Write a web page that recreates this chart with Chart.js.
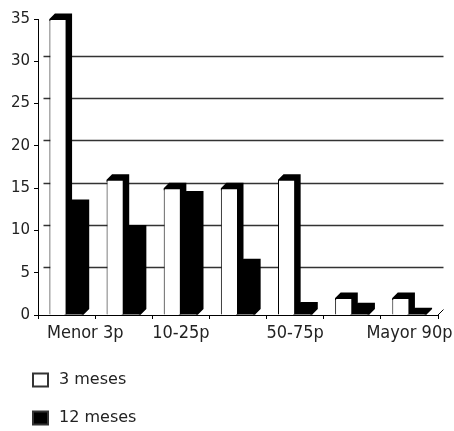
<!DOCTYPE html>
<html>
<head>
<meta charset="utf-8">
<script src="https://cdn.jsdelivr.net/npm/chart.js@4.4.1/dist/chart.umd.min.js"></script>
<style>
  html, body { margin: 0; padding: 0; background: #fff; }
  canvas { display: block; }
</style>
</head>
<body>
<canvas id="chart" width="454" height="431"></canvas>
<script>
// Percentile groups on the category axis (every other one is labelled)
const categories = ['Menor 3p', '3-10p', '10-25p', '25-50p', '50-75p', '75-90p', 'Mayor 90p'];
// Series values
const meses3 = [35, 16, 15, 15, 16, 2, 2];
const meses12 = [13, 10, 14, 6, 0.9, 0.8, 0.2];
const seriesNames = ['3 meses', '12 meses'];
// Value axis ticks
const yTicks = [0, 5, 10, 15, 20, 25, 30, 35];

// Depth of the pseudo-3D bars and back wall
const DX = 5.5, DY = 5.5;
const TEXT = '#222';
const LABEL_FONT = "18px 'DejaVu Sans Condensed', 'Liberation Sans', sans-serif";
const LEGEND_FONT = "16px 'DejaVu Sans', sans-serif";

const depthPlugin = {
  id: 'depth3d',
  beforeDatasetsDraw(chart) {
    const { ctx, chartArea: a, scales: { y } } = chart;
    ctx.save();
    // gridlines on the back wall
    ctx.strokeStyle = '#333';
    ctx.lineWidth = 1.5;
    yTicks.forEach(v => {
      if (v === 0 || v === yTicks[yTicks.length - 1]) return;
      const py = Math.round(y.getPixelForValue(v) - DY) + 0.5;
      ctx.beginPath();
      ctx.moveTo(a.left + DX, py);
      ctx.lineTo(a.right + DX, py);
      ctx.stroke();
    });
    // right edge of the floor
    ctx.strokeStyle = '#000';
    ctx.lineWidth = 1;
    ctx.beginPath();
    ctx.moveTo(a.right, a.bottom);
    ctx.lineTo(a.right + DX, a.bottom - DY);
    ctx.stroke();
    // top and side faces of every bar; they reach 2px into the front face
    // so the front drawn on top leaves no anti-aliased seam
    ctx.fillStyle = '#000';
    chart.data.datasets.forEach((ds, di) => {
      chart.getDatasetMeta(di).data.forEach(bar => {
        const p = bar.getProps(['x', 'y', 'base', 'width'], true);
        const l = p.x - p.width / 2, r = p.x + p.width / 2;
        const inset = Math.min(2, (p.base - p.y) / 2);
        ctx.beginPath();
        ctx.moveTo(l, p.y + inset);
        ctx.lineTo(l, p.y);
        ctx.lineTo(l + DX, p.y - DY);
        ctx.lineTo(r + DX, p.y - DY);
        ctx.lineTo(r + DX, p.base - DY);
        ctx.lineTo(r, p.base);
        ctx.lineTo(r - 2, p.base);
        ctx.lineTo(r - 2, p.y + inset);
        ctx.closePath();
        ctx.fill();
      });
    });
    ctx.restore();
  },
  afterDraw(chart) {
    const { ctx, chartArea: a, scales: { x } } = chart;
    ctx.save();
    // category labels, kept inside the plot on the left
    ctx.font = LABEL_FONT;
    ctx.fillStyle = TEXT;
    ctx.textBaseline = 'alphabetic';
    ctx.textAlign = 'left';
    categories.forEach((c, i) => {
      if (i % 2 !== 0) return;
      const w = ctx.measureText(c).width;
      const cx = x.getPixelForValue(i);
      const lx = Math.max(cx - w / 2, a.left + 9);
      ctx.fillText(c, lx, a.bottom + 23);
    });
    // legend, stacked vertically
    ctx.font = LEGEND_FONT;
    ctx.textBaseline = 'middle';
    const rows = [380, 418];
    chart.data.datasets.forEach((ds, i) => {
      const cy = rows[i];
      ctx.fillStyle = ds.backgroundColor;
      ctx.fillRect(33, cy - 6.5, 15, 13);
      ctx.strokeStyle = '#333';
      ctx.lineWidth = 2;
      ctx.strokeRect(33, cy - 6.5, 15, 13);
      ctx.fillStyle = TEXT;
      ctx.fillText(ds.label, 59, cy);
    });
    ctx.restore();
  }
};

new Chart(document.getElementById('chart'), {
  type: 'bar',
  data: {
    labels: categories,
    datasets: [
      { label: seriesNames[0], data: meses3, backgroundColor: '#ffffff', borderColor: '#000', borderWidth: 1 },
      { label: seriesNames[1], data: meses12, backgroundColor: '#000000', borderColor: '#000', borderWidth: 0 }
    ]
  },
  options: {
    responsive: false,
    animation: false,
    devicePixelRatio: 1,
    layout: { padding: { left: 0, right: 16, top: 19, bottom: 92 } },
    datasets: { bar: { categoryPercentage: 0.6, barPercentage: 1 } },
    plugins: { legend: { display: false }, tooltip: { enabled: false } },
    scales: {
      x: {
        afterFit(s) { s.height = 24; },
        ticks: { display: false },
        grid: { offset: true, drawOnChartArea: false, drawTicks: true, tickLength: 4, color: '#000' },
        border: { display: true, color: '#000', width: 1 }
      },
      y: {
        min: 0,
        max: 35,
        afterFit(s) { s.width = 38; },
        afterBuildTicks(s) { s.ticks = yTicks.map(v => ({ value: v })); },
        ticks: { color: TEXT, padding: 4, font: { family: "'DejaVu Sans', sans-serif", size: 15 } },
        grid: { drawOnChartArea: false, drawTicks: true, tickLength: 4, color: '#000' },
        border: { display: true, color: '#000', width: 1 }
      }
    }
  },
  plugins: [depthPlugin]
});
</script>
</body>
</html>
